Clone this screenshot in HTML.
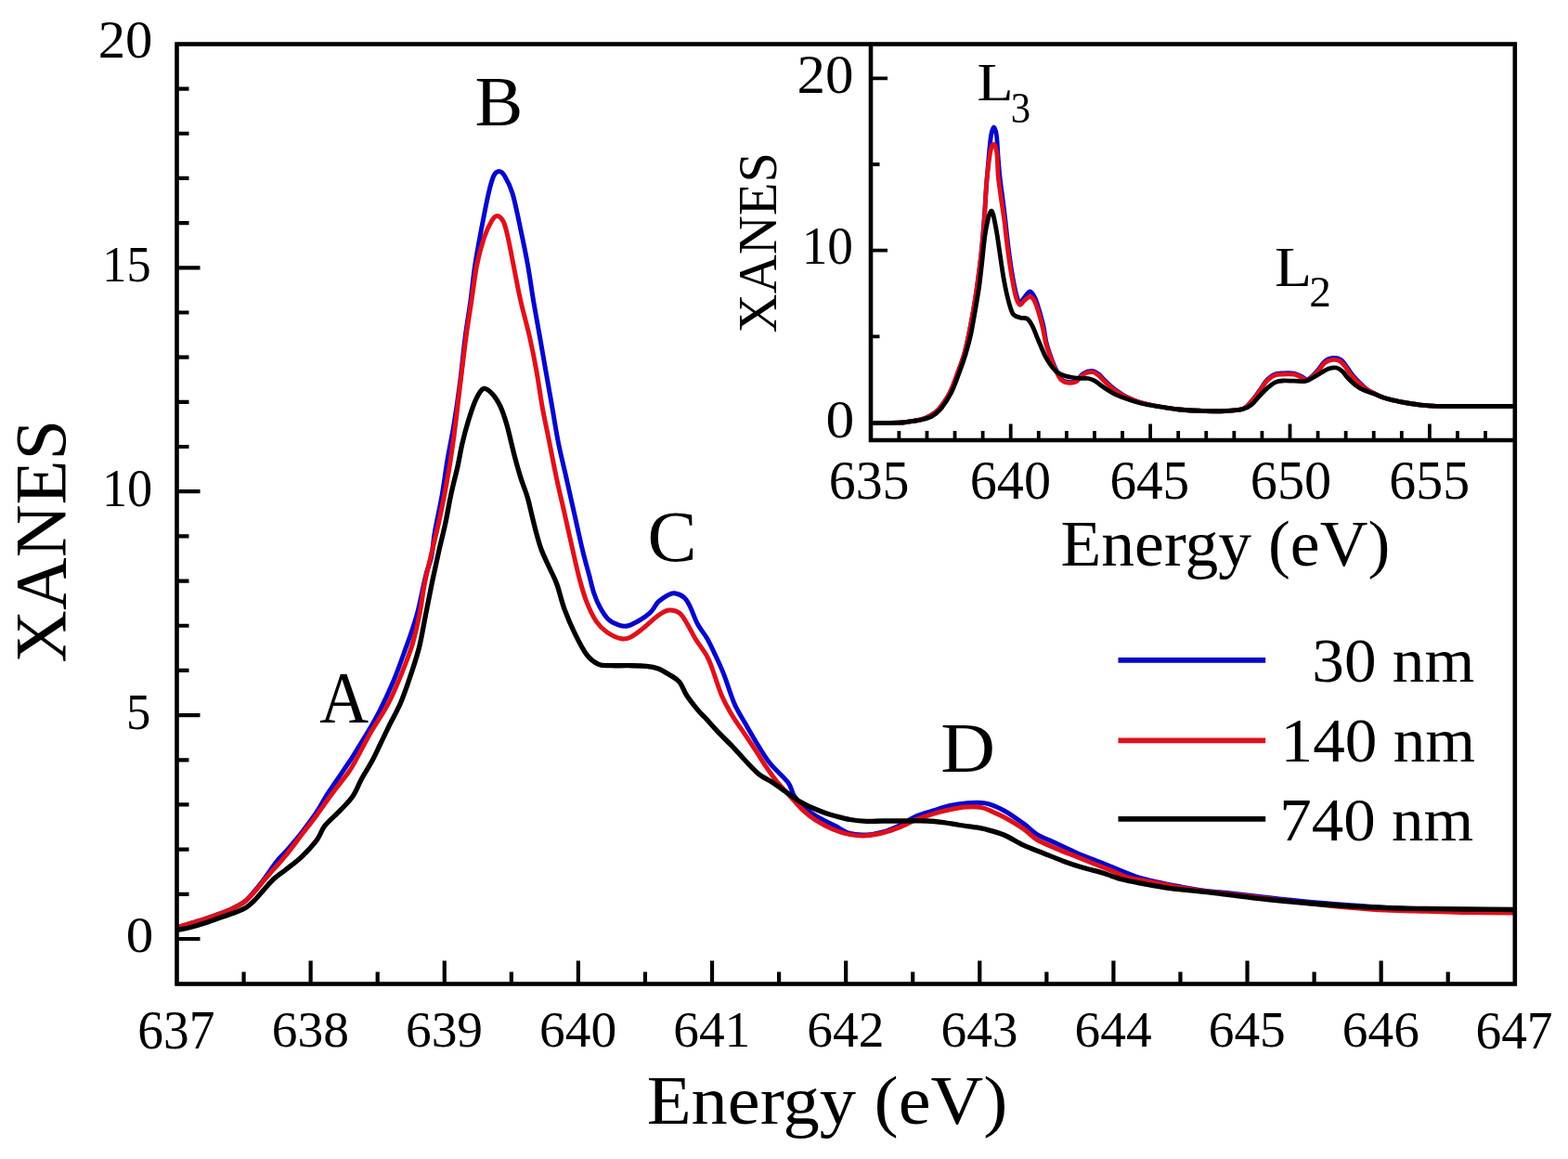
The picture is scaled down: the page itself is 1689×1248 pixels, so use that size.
<!DOCTYPE html>
<html><head><meta charset="utf-8"><title>XANES</title>
<style>html,body{margin:0;padding:0;background:#fff;overflow:hidden;}svg{display:block;}text{font-family:"Liberation Serif", "Times New Roman", serif;fill:#000;}</style>
</head><body>
<svg width="1689" height="1248" viewBox="0 0 1689 1248">
<rect x="0" y="0" width="1689" height="1248" fill="#fff"/>
<defs><clipPath id="mc"><rect x="190.5" y="47.5" width="1441.3" height="1012"/></clipPath><clipPath id="ic"><rect x="938" y="47.5" width="693.8" height="426.5"/></clipPath></defs>
<g clip-path="url(#mc)" fill="none" stroke-linejoin="round" stroke-linecap="round">
<path d="M190.5,998.6C193.13,997.83 201.3,995.48 206.3,994C211.3,992.52 215.77,991.25 220.5,989.7C225.23,988.15 229.95,986.48 234.7,984.7C239.45,982.92 244.25,981.28 249,979C253.75,976.72 259.07,974.17 263.2,971C267.33,967.83 270.25,964.08 273.8,960C277.35,955.92 280.52,951.83 284.5,946.5C288.48,941.17 293.82,932.92 297.7,928C301.58,923.08 303.32,922.17 307.8,917C312.28,911.83 319,904.17 324.6,897C330.2,889.83 336.83,880.83 341.4,874C345.97,867.17 348.63,861.33 352,856C355.37,850.67 357.75,847.67 361.6,842C365.45,836.33 371.72,827.08 375.1,822C378.48,816.92 376.92,819.67 381.9,811.5C386.88,803.33 398.1,785.82 405,773C411.9,760.18 417.85,747.4 423.3,734.6C428.75,721.8 434.18,705.82 437.7,696.2C441.22,686.58 442.32,683.32 444.4,676.9C446.48,670.48 447.8,667.32 450.2,657.7C452.6,648.08 456.4,628.82 458.8,619.2C461.2,609.58 462.98,607.87 464.6,600C466.22,592.13 466.6,583 468.5,572C470.4,561 473.75,546.83 476,534C478.25,521.17 479.83,507.83 482,495C484.17,482.17 486.75,470.83 489,457C491.25,443.17 493.47,427.78 495.5,412C497.53,396.22 499.3,377 501.2,362.3C503.1,347.6 505.15,336.62 506.9,323.8C508.65,310.98 509.77,298.22 511.7,285.4C513.63,272.58 516.08,259.72 518.5,246.9C520.92,234.08 523.97,218.12 526.2,208.5C528.43,198.88 529.98,193.22 531.9,189.2C533.82,185.18 535.77,184.4 537.7,184.4C539.63,184.4 541.1,185.18 543.5,189.2C545.9,193.22 549.22,198.88 552.1,208.5C554.98,218.12 558.07,234.08 560.8,246.9C563.53,259.72 566.2,272.58 568.5,285.4C570.8,298.22 572.45,310.98 574.6,323.8C576.75,336.62 579.17,349.6 581.4,362.3C583.63,375 585.77,387.3 588,400C590.23,412.7 592.55,425.68 594.8,438.5C597.05,451.32 598.93,464.08 601.5,476.9C604.07,489.72 607.32,502.58 610.2,515.4C613.08,528.22 615.92,540.98 618.8,553.8C621.68,566.62 624.87,581.4 627.5,592.3C630.13,603.2 632.57,611.5 634.6,619.2C636.63,626.9 637.77,632.73 639.7,638.5C641.63,644.27 643.63,649.1 646.2,653.8C648.77,658.5 651.68,663.48 655.1,666.7C658.52,669.92 663.07,671.93 666.7,673.1C670.33,674.27 673.07,674.63 676.9,673.7C680.73,672.77 685.92,669.72 689.7,667.5C693.48,665.28 697.13,662.57 699.6,660.4C702.07,658.23 702.9,656.58 704.5,654.5C706.1,652.42 706.82,650.12 709.2,647.9C711.58,645.68 715.92,642.72 718.8,641.2C721.68,639.68 723.43,638.4 726.5,638.8C729.57,639.2 734.35,641.1 737.2,643.6C740.05,646.1 741.25,649.1 743.6,653.8C745.95,658.5 748.32,666.23 751.3,671.8C754.28,677.37 758.52,682.07 761.5,687.2C764.48,692.33 766.2,696.2 769.2,702.6C772.2,709 775.82,716.33 779.5,725.6C783.18,734.87 787.2,748.92 791.3,758.2C795.4,767.48 799.83,773.82 804.1,781.3C808.37,788.78 812.63,796.27 816.9,803.1C821.17,809.93 824.35,815.68 829.7,822.3C835.05,828.92 844.72,837.03 849,842.8C853.28,848.57 852.2,852.2 855.4,856.9C858.6,861.6 863.93,867.15 868.2,871C872.47,874.85 875.87,877 881,880C886.13,883 893.25,886.08 899,889C904.75,891.92 909.78,895.83 915.5,897.5C921.22,899.17 927.38,899.25 933.3,899C939.22,898.75 945.08,897.67 951,896C956.92,894.33 962.87,891.82 968.8,889C974.73,886.18 980.68,881.73 986.6,879.1C992.52,876.47 998.38,875.08 1004.3,873.2C1010.22,871.32 1016.17,869.18 1022.1,867.8C1028.03,866.42 1033.38,865.38 1039.9,864.9C1046.42,864.42 1054.3,863.6 1061.2,864.9C1068.1,866.2 1074.4,869.03 1081.3,872.7C1088.2,876.37 1096.68,882.63 1102.6,886.9C1108.52,891.17 1110.88,894.75 1116.8,898.3C1122.72,901.85 1131,904.88 1138.1,908.2C1145.2,911.52 1152.3,915.12 1159.4,918.2C1166.5,921.28 1173.6,923.87 1180.7,926.7C1187.8,929.53 1194.88,932.35 1202,935.2C1209.12,938.05 1216.28,941.43 1223.4,943.8C1230.52,946.17 1236.42,947.52 1244.7,949.4C1252.98,951.28 1263.88,953.43 1273.1,955.1C1282.32,956.77 1291.75,958.33 1300,959.4C1308.25,960.47 1311.72,960.32 1322.6,961.5C1333.48,962.68 1351.08,964.92 1365.3,966.5C1379.52,968.08 1393.68,969.67 1407.9,971C1422.12,972.33 1436.38,973.42 1450.6,974.5C1464.82,975.58 1478.98,976.75 1493.2,977.5C1507.42,978.25 1521.43,978.58 1535.9,979C1550.37,979.42 1563.98,979.75 1580,980C1596.02,980.25 1623.33,980.42 1632,980.5" stroke="#0606cc" stroke-width="5.0"/>
<path d="M190.5,998.6C193.13,997.83 201.3,995.48 206.3,994C211.3,992.52 215.77,991.25 220.5,989.7C225.23,988.15 229.95,986.48 234.7,984.7C239.45,982.92 244.25,981.25 249,979C253.75,976.75 259.07,974.27 263.2,971.2C267.33,968.13 270.25,964.5 273.8,960.6C277.35,956.7 280.95,951.95 284.5,947.8C288.05,943.65 291.22,940.13 295.1,935.7C298.98,931.27 302.88,927.27 307.8,921.2C312.72,915.13 319,906.6 324.6,899.3C330.2,892 335.78,884.98 341.4,877.4C347.02,869.82 352.68,861.37 358.3,853.8C363.92,846.23 371.17,837.47 375.1,832C379.03,826.53 378.2,827.62 381.9,821C385.6,814.38 393.68,798.83 397.3,792.3C400.92,785.77 399.98,787.82 403.6,781.8C407.22,775.78 414.08,765.82 419,756.2C423.92,746.58 428.88,734.55 433.1,724.1C437.32,713.65 441.15,704.02 444.3,693.5C447.45,682.98 449.78,672.03 452,661C454.22,649.97 455.4,638.42 457.6,627.3C459.8,616.18 462.73,604.88 465.2,594.3C467.67,583.72 470.13,574.1 472.4,563.8C474.67,553.5 476.83,542.78 478.8,532.5C480.77,522.22 482.7,511.17 484.2,502.1C485.7,493.03 486.67,486.12 487.8,478.1C488.93,470.08 490,462.02 491,454C492,445.98 492.93,437.33 493.8,430C494.67,422.67 494.82,421.28 496.2,410C497.58,398.72 500.15,376.67 502.1,362.3C504.05,347.93 505.97,336.62 507.9,323.8C509.83,310.98 511.47,296.62 513.7,285.4C515.93,274.18 518.58,264.52 521.3,256.5C524.02,248.48 527.58,241.3 530,237.3C532.42,233.3 533.72,232.18 535.8,232.5C537.88,232.82 540.58,235.2 542.5,239.2C544.42,243.2 545.53,248.8 547.3,256.5C549.07,264.2 550.85,274.18 553.1,285.4C555.35,296.62 557.92,310.98 560.8,323.8C563.68,336.62 567.53,349.6 570.4,362.3C573.27,375 575.7,387.3 578,400C580.3,412.7 581.88,425.68 584.2,438.5C586.52,451.32 589.33,464.08 591.9,476.9C594.47,489.72 596.87,502.58 599.6,515.4C602.33,528.22 605.42,540.98 608.3,553.8C611.18,566.62 614.22,580.6 616.9,592.3C619.58,604 621.87,614.6 624.4,624C626.93,633.4 629.12,641.17 632.1,648.7C635.08,656.23 638.68,663.85 642.3,669.2C645.92,674.55 649.32,677.7 653.8,680.8C658.28,683.9 664.92,686.95 669.2,687.8C673.48,688.65 675.65,687.72 679.5,685.9C683.35,684.08 687.38,680.75 692.3,676.9C697.22,673.05 704.3,666.1 709,662.8C713.7,659.5 716.65,657.52 720.5,657.1C724.35,656.68 728.68,657.63 732.1,660.3C735.52,662.97 738.23,668.62 741,673.1C743.77,677.58 745.28,681.65 748.7,687.2C752.12,692.75 758.42,700.93 761.5,706.4C764.58,711.87 764.57,712.93 767.2,720C769.83,727.07 773.7,740.38 777.3,748.8C780.9,757.22 784.47,763.28 788.8,770.5C793.13,777.72 798.97,785.62 803.3,792.1C807.63,798.58 811.2,803.88 814.8,809.4C818.4,814.92 821.3,819.92 824.9,825.2C828.5,830.48 832.32,836.05 836.4,841.1C840.48,846.15 844.83,850.45 849.4,855.5C853.97,860.55 859,866.83 863.8,871.4C868.6,875.97 872.53,879.25 878.2,882.9C883.87,886.55 891.58,890.68 897.8,893.3C904.02,895.92 909.58,897.52 915.5,898.6C921.42,899.68 927.38,900.1 933.3,899.8C939.22,899.5 945.08,898.28 951,896.8C956.92,895.32 962.87,893.27 968.8,890.9C974.73,888.53 980.68,884.97 986.6,882.6C992.52,880.23 998.38,878.47 1004.3,876.7C1010.22,874.93 1016.17,873.28 1022.1,872C1028.03,870.72 1033.98,869.4 1039.9,869C1045.82,868.6 1052.67,868.72 1057.6,869.6C1062.53,870.48 1065.55,872.6 1069.5,874.3C1073.45,876 1075.78,876.75 1081.3,879.8C1086.82,882.85 1096.68,888.57 1102.6,892.6C1108.52,896.63 1110.88,900.45 1116.8,904C1122.72,907.55 1131,910.83 1138.1,913.9C1145.2,916.97 1152.3,919.55 1159.4,922.4C1166.5,925.25 1173.6,928.15 1180.7,931C1187.8,933.85 1196.07,937.13 1202,939.5C1207.93,941.87 1209.18,943.37 1216.3,945.2C1223.42,947.03 1235.25,948.7 1244.7,950.5C1254.15,952.3 1263.78,954.42 1273,956C1282.22,957.58 1291.73,958.92 1300,960C1308.27,961.08 1311.72,961.25 1322.6,962.5C1333.48,963.75 1351.08,965.83 1365.3,967.5C1379.52,969.17 1393.68,970.93 1407.9,972.5C1422.12,974.07 1436.38,975.63 1450.6,976.9C1464.82,978.17 1478.98,979.38 1493.2,980.1C1507.42,980.82 1521.43,980.8 1535.9,981.2C1550.37,981.6 1563.98,982.2 1580,982.5C1596.02,982.8 1623.33,982.92 1632,983" stroke="#e0101a" stroke-width="5.0"/>
<path d="M190.5,1001.6C193.13,1001.03 201.3,999.47 206.3,998.2C211.3,996.93 215.77,995.53 220.5,994C225.23,992.47 229.95,990.67 234.7,989C239.45,987.33 244.25,985.78 249,984C253.75,982.22 259.07,980.67 263.2,978.3C267.33,975.93 270.25,973.23 273.8,969.8C277.35,966.37 280.95,961.62 284.5,957.7C288.05,953.78 291.22,949.83 295.1,946.3C298.98,942.77 302.88,940.42 307.8,936.5C312.72,932.58 319,928.17 324.6,922.8C330.2,917.43 337.18,909.9 341.4,904.3C345.62,898.7 345.68,894.52 349.9,889.2C354.12,883.88 361.67,877.73 366.7,872.4C371.73,867.07 376.28,862.85 380.1,857.2C383.92,851.55 386.12,844.87 389.6,838.5C393.08,832.13 397.6,825.33 401,819C404.4,812.67 407,806.7 410,800.5C413,794.3 415.37,789.18 419,781.8C422.63,774.42 427.75,765.82 431.8,756.2C435.85,746.58 439.97,734.13 443.3,724.1C446.63,714.07 449.23,706.52 451.8,696C454.37,685.48 456.43,672.45 458.7,661C460.97,649.55 463.1,638.38 465.4,627.3C467.7,616.22 470.12,605.08 472.5,594.5C474.88,583.92 477.48,574.13 479.7,563.8C481.92,553.47 483.58,542.78 485.8,532.5C488.02,522.22 491,511.17 493,502.1C495,493.03 495.93,486.12 497.8,478.1C499.67,470.08 501.72,462.02 504.2,454C506.68,445.98 509.93,435.92 512.7,430C515.47,424.08 517.85,419.47 520.8,418.5C523.75,417.53 527.37,421 530.4,424.2C533.43,427.4 536.43,432.25 539,437.7C541.57,443.15 543.87,450.48 545.8,456.9C547.73,463.32 549,469.78 550.6,476.2C552.2,482.62 553.63,488.87 555.4,495.4C557.17,501.93 559.12,508.87 561.2,515.4C563.28,521.93 565.98,528.2 567.9,534.6C569.82,541 571.1,547.38 572.7,553.8C574.3,560.22 575.73,566.68 577.5,573.1C579.27,579.52 580.9,585.9 583.3,592.3C585.7,598.7 589.12,605.3 591.9,611.5C594.68,617.7 597.37,622.23 600,629.5C602.63,636.77 604.5,646.33 607.7,655.1C610.9,663.87 615.13,673.77 619.2,682.1C623.27,690.43 627.82,699.55 632.1,705.1C636.38,710.65 640.63,713.47 644.9,715.4C649.17,717.33 652.37,716.48 657.7,716.7C663.03,716.92 670.48,716.6 676.9,716.7C683.32,716.8 690.85,716.77 696.2,717.3C701.55,717.83 704.73,718.3 709,719.9C713.27,721.5 717.95,724.45 721.8,726.9C725.65,729.35 729.07,730.88 732.1,734.6C735.13,738.32 736.55,743.98 740,749.2C743.45,754.42 749.47,761.88 752.8,765.9C756.13,769.92 756.4,769.42 760,773.3C763.6,777.18 769.6,784.15 774.4,789.2C779.2,794.25 783.98,798.55 788.8,803.6C793.62,808.65 798.48,814.45 803.3,819.5C808.12,824.55 812.9,830.07 817.7,833.9C822.5,837.73 827.3,839.38 832.1,842.5C836.9,845.62 841.7,849.23 846.5,852.6C851.3,855.97 856.1,859.8 860.9,862.7C865.7,865.6 870.48,867.83 875.3,870C880.12,872.17 885.68,874.23 889.8,875.7C893.92,877.17 895.72,877.67 900,878.8C904.28,879.93 909.95,881.57 915.5,882.5C921.05,883.43 927.38,884.15 933.3,884.4C939.22,884.65 944.1,884.07 951,884C957.9,883.93 966.8,884 974.7,884C982.6,884 991.48,883.73 998.4,884C1005.32,884.27 1010.28,884.85 1016.2,885.6C1022.12,886.35 1027.98,887.62 1033.9,888.5C1039.82,889.38 1047.35,890.23 1051.7,890.9C1056.05,891.57 1055.07,891.15 1060,892.5C1064.93,893.85 1074.2,896.05 1081.3,899C1088.4,901.95 1095.5,906.92 1102.6,910.2C1109.7,913.48 1116.8,915.87 1123.9,918.7C1131,921.53 1138.1,924.6 1145.2,927.2C1152.3,929.8 1159.4,932.17 1166.5,934.3C1173.6,936.43 1180.7,937.88 1187.8,940C1194.9,942.12 1201.98,945.1 1209.1,947C1216.22,948.9 1222.2,949.85 1230.5,951.4C1238.8,952.95 1247.32,954.77 1258.9,956.3C1270.48,957.83 1289.38,959.42 1300,960.6C1310.62,961.78 1311.72,962.08 1322.6,963.4C1333.48,964.72 1351.08,966.98 1365.3,968.5C1379.52,970.02 1393.68,971.33 1407.9,972.5C1422.12,973.67 1436.38,974.67 1450.6,975.5C1464.82,976.33 1478.98,977 1493.2,977.5C1507.42,978 1521.68,978.25 1535.9,978.5C1550.12,978.75 1562.48,978.83 1578.5,979C1594.52,979.17 1623.08,979.42 1632,979.5" stroke="#000" stroke-width="5.3"/>
</g>
<path d="M190.5,1011h25M190.5,962.82h13M190.5,914.64h13M190.5,866.46h13M190.5,818.28h13M190.5,770.1h25M190.5,721.92h13M190.5,673.74h13M190.5,625.56h13M190.5,577.38h13M190.5,529.2h25M190.5,481.02h13M190.5,432.84h13M190.5,384.66h13M190.5,336.48h13M190.5,288.3h25M190.5,240.12h13M190.5,191.94h13M190.5,143.76h13M190.5,95.58h13M262.56,1059.5v-13M334.63,1059.5v-25M406.69,1059.5v-13M478.76,1059.5v-25M550.83,1059.5v-13M622.89,1059.5v-25M694.95,1059.5v-13M767.02,1059.5v-25M839.09,1059.5v-13M911.15,1059.5v-25M983.21,1059.5v-13M1055.28,1059.5v-25M1127.35,1059.5v-13M1199.41,1059.5v-25M1271.47,1059.5v-13M1343.54,1059.5v-25M1415.61,1059.5v-13M1487.67,1059.5v-25M1559.73,1059.5v-13" stroke="#000" stroke-width="4.2" fill="none"/>
<path d="M1204.5,710.8H1363.2" stroke="#0606cc" stroke-width="5.8"/>
<path d="M1204.5,797.4H1363.2" stroke="#e0101a" stroke-width="5.8"/>
<path d="M1204.5,881.8H1363.2" stroke="#000" stroke-width="5.8"/>
<rect x="938" y="47.5" width="693.8" height="426.5" fill="#fff"/>
<g clip-path="url(#ic)" fill="none" stroke-linejoin="round" stroke-linecap="round">
<path d="M938,455.6C943,455.53 961.33,455.43 968,455.2C974.67,454.97 973.92,454.8 978,454.2C982.08,453.6 988.5,452.7 992.5,451.6C996.5,450.5 998.8,449.53 1002,447.6C1005.2,445.67 1008.2,444.1 1011.7,440C1015.2,435.9 1019.72,429.33 1023,423C1026.28,416.67 1028.82,408.88 1031.4,402C1033.98,395.12 1036.4,389.03 1038.5,381.7C1040.6,374.37 1042.33,365.95 1044,358C1045.67,350.05 1047.08,342.33 1048.5,334C1049.92,325.67 1051.1,318.03 1052.5,308C1053.9,297.97 1055.58,286.47 1056.9,273.8C1058.22,261.13 1059.47,244.3 1060.4,232C1061.33,219.7 1061.73,210.33 1062.5,200C1063.27,189.67 1064.17,179 1065,170C1065.83,161 1066.58,151.5 1067.5,146C1068.42,140.5 1069.5,137 1070.5,137C1071.5,137 1072.72,140.5 1073.5,146C1074.28,151.5 1074.58,162.33 1075.2,170C1075.82,177.67 1076.3,183.97 1077.2,192C1078.1,200.03 1079.67,210.87 1080.6,218.2C1081.53,225.53 1082.13,230.2 1082.8,236C1083.47,241.8 1083.85,246.5 1084.6,253C1085.35,259.5 1086.28,267.62 1087.3,275C1088.32,282.38 1089.42,290.13 1090.7,297.3C1091.98,304.47 1093.68,313.22 1095,318C1096.32,322.78 1097.25,325.58 1098.6,326C1099.95,326.42 1101.28,322.5 1103.1,320.5C1104.92,318.5 1107.52,313.92 1109.5,314C1111.48,314.08 1113.33,317.58 1115,321C1116.67,324.42 1118,329.42 1119.5,334.5C1121,339.58 1122.75,345.83 1124,351.5C1125.25,357.17 1125.83,363.5 1127,368.5C1128.17,373.5 1129.37,376.83 1131,381.5C1132.63,386.17 1134.77,392.03 1136.8,396.5C1138.83,400.97 1140.75,405.8 1143.2,408.3C1145.65,410.8 1148.73,411.25 1151.5,411.5C1154.27,411.75 1157.32,411.3 1159.8,409.8C1162.28,408.3 1163.65,404.22 1166.4,402.5C1169.15,400.78 1173.53,399.5 1176.3,399.5C1179.07,399.5 1180.88,401 1183,402.5C1185.12,404 1186.58,406.17 1189,408.5C1191.42,410.83 1194.73,414.15 1197.5,416.5C1200.27,418.85 1202.92,420.77 1205.6,422.6C1208.28,424.43 1209.9,425.73 1213.6,427.5C1217.3,429.27 1221.73,431.45 1227.8,433.2C1233.87,434.95 1242.88,436.7 1250,438C1257.12,439.3 1262.35,440.23 1270.5,441C1278.65,441.77 1290.65,442.35 1298.9,442.6C1307.15,442.85 1313.33,442.88 1320,442.5C1326.67,442.12 1334.18,442.13 1338.9,440.3C1343.62,438.47 1345.35,434.75 1348.3,431.5C1351.25,428.25 1353.83,424.55 1356.6,420.8C1359.37,417.05 1362.13,411.97 1364.9,409C1367.67,406.03 1370.43,404.2 1373.2,403C1375.97,401.8 1378.05,401.97 1381.5,401.8C1384.95,401.63 1390.45,401.38 1393.9,402C1397.35,402.62 1399.72,404.42 1402.2,405.5C1404.68,406.58 1406.03,409.5 1408.8,408.5C1411.57,407.5 1415.75,402.75 1418.8,399.5C1421.85,396.25 1424.23,391.33 1427.1,389C1429.97,386.67 1433.1,385.75 1436,385.5C1438.9,385.25 1442,385.83 1444.5,387.5C1447,389.17 1448.92,392.75 1451,395.5C1453.08,398.25 1454.67,401.17 1457,404C1459.33,406.83 1462.38,409.92 1465,412.5C1467.62,415.08 1470.2,417.67 1472.7,419.5C1475.2,421.33 1477.03,422.05 1480,423.5C1482.97,424.95 1485.58,426.63 1490.5,428.2C1495.42,429.77 1503.18,431.63 1509.5,432.9C1515.82,434.17 1522.08,435.07 1528.4,435.8C1534.72,436.53 1537.92,437.02 1547.4,437.3C1556.88,437.58 1571.2,437.47 1585.3,437.5C1599.4,437.53 1624.22,437.5 1632,437.5" stroke="#0606cc" stroke-width="4.8"/>
<path d="M938,455.6C943,455.53 961.33,455.43 968,455.2C974.67,454.97 973.92,454.8 978,454.2C982.08,453.6 988.5,452.7 992.5,451.6C996.5,450.5 998.8,449.53 1002,447.6C1005.2,445.67 1008.2,444.1 1011.7,440C1015.2,435.9 1019.72,429.33 1023,423C1026.28,416.67 1028.82,408.88 1031.4,402C1033.98,395.12 1036.4,389.03 1038.5,381.7C1040.6,374.37 1042.33,365.95 1044,358C1045.67,350.05 1047.08,342.33 1048.5,334C1049.92,325.67 1051.1,318.03 1052.5,308C1053.9,297.97 1055.58,285.83 1056.9,273.8C1058.22,261.77 1059.67,245.07 1060.4,235.8C1061.13,226.53 1060.85,225.55 1061.3,218.2C1061.75,210.85 1062.28,200.23 1063.1,191.7C1063.92,183.17 1065.38,172.53 1066.2,167C1067.02,161.47 1067.33,160.42 1068,158.5C1068.67,156.58 1069.47,155.5 1070.2,155.5C1070.93,155.5 1071.77,156.58 1072.4,158.5C1073.03,160.42 1073.5,161.47 1074,167C1074.5,172.53 1074.57,183.17 1075.4,191.7C1076.23,200.23 1077.97,210.85 1079,218.2C1080.03,225.55 1080.85,230.1 1081.6,235.8C1082.35,241.5 1082.72,245.88 1083.5,252.4C1084.28,258.92 1085.27,267.42 1086.3,274.9C1087.33,282.38 1088.38,289.83 1089.7,297.3C1091.02,304.77 1092.72,314.53 1094.2,319.7C1095.68,324.87 1097.12,327.58 1098.6,328.3C1100.08,329.02 1101.32,325.47 1103.1,324C1104.88,322.53 1107.43,319.5 1109.3,319.5C1111.17,319.5 1112.72,321.17 1114.3,324C1115.88,326.83 1117.3,331.6 1118.8,336.5C1120.3,341.4 1122,347.82 1123.3,353.4C1124.6,358.98 1125.37,365.17 1126.6,370C1127.83,374.83 1129.05,377.83 1130.7,382.4C1132.35,386.97 1134.42,392.97 1136.5,397.4C1138.58,401.83 1140.7,406.52 1143.2,409C1145.7,411.48 1148.73,412.03 1151.5,412.3C1154.27,412.57 1157.32,412.07 1159.8,410.6C1162.28,409.13 1163.65,405.15 1166.4,403.5C1169.15,401.85 1173.53,400.62 1176.3,400.7C1179.07,400.78 1180.92,402.48 1183,404C1185.08,405.52 1186.45,407.58 1188.8,409.8C1191.15,412.02 1194.33,415.08 1197.1,417.3C1199.87,419.52 1202.65,421.35 1205.4,423.1C1208.15,424.85 1209.87,426.12 1213.6,427.8C1217.33,429.48 1221.73,431.5 1227.8,433.2C1233.87,434.9 1242.88,436.7 1250,438C1257.12,439.3 1262.35,440.23 1270.5,441C1278.65,441.77 1290.65,442.35 1298.9,442.6C1307.15,442.85 1313.33,442.88 1320,442.5C1326.67,442.12 1334.18,442.05 1338.9,440.3C1343.62,438.55 1345.35,435.15 1348.3,432C1351.25,428.85 1353.83,425.1 1356.6,421.4C1359.37,417.7 1362.13,412.7 1364.9,409.8C1367.67,406.9 1370.43,405.13 1373.2,404C1375.97,402.87 1378.05,403.13 1381.5,403C1384.95,402.87 1390.45,402.62 1393.9,403.2C1397.35,403.78 1399.72,405.53 1402.2,406.5C1404.68,407.47 1406.03,409.97 1408.8,409C1411.57,408.03 1415.75,403.75 1418.8,400.7C1421.85,397.65 1424.33,392.92 1427.1,390.7C1429.87,388.48 1432.63,387.67 1435.4,387.4C1438.17,387.13 1441.22,387.58 1443.7,389.1C1446.18,390.62 1448.23,393.88 1450.3,396.5C1452.37,399.12 1453.75,402.03 1456.1,404.8C1458.45,407.57 1461.63,410.6 1464.4,413.1C1467.17,415.6 1470.1,418.07 1472.7,419.8C1475.3,421.53 1477.03,422.1 1480,423.5C1482.97,424.9 1485.58,426.63 1490.5,428.2C1495.42,429.77 1503.18,431.63 1509.5,432.9C1515.82,434.17 1522.08,435.07 1528.4,435.8C1534.72,436.53 1537.92,437.02 1547.4,437.3C1556.88,437.58 1571.2,437.47 1585.3,437.5C1599.4,437.53 1624.22,437.5 1632,437.5" stroke="#e0101a" stroke-width="4.8"/>
<path d="M938,455.6C943,455.53 961.33,455.43 968,455.2C974.67,454.97 973.92,454.73 978,454.2C982.08,453.67 988.23,452.98 992.5,452C996.77,451.02 1000.15,450.22 1003.6,448.3C1007.05,446.38 1009.7,444.72 1013.2,440.5C1016.7,436.28 1021.3,429.42 1024.6,423C1027.9,416.58 1030.43,408.88 1033,402C1035.57,395.12 1037.92,388.48 1040,381.7C1042.08,374.92 1043.75,369.25 1045.5,361.3C1047.25,353.35 1049,342.55 1050.5,334C1052,325.45 1053.33,318.17 1054.5,310C1055.67,301.83 1056.45,294.23 1057.5,285C1058.55,275.77 1059.67,262.77 1060.8,254.6C1061.93,246.43 1063.22,240.52 1064.3,236C1065.38,231.48 1066.38,228.33 1067.3,227.5C1068.22,226.67 1068.68,226.85 1069.8,231C1070.92,235.15 1072.75,245.08 1074,252.4C1075.25,259.72 1076.18,267.42 1077.3,274.9C1078.42,282.38 1079.38,289.83 1080.7,297.3C1082.02,304.77 1083.52,313 1085.2,319.7C1086.88,326.4 1088.57,333.78 1090.8,337.5C1093.03,341.22 1095.98,341.03 1098.6,342C1101.22,342.97 1104.25,341.78 1106.5,343.3C1108.75,344.82 1110.23,347.55 1112.1,351.1C1113.97,354.65 1116.38,361.45 1117.7,364.6C1119.02,367.75 1118.52,366.62 1120,370C1121.48,373.38 1124.4,380.75 1126.6,384.9C1128.8,389.05 1130.98,392.13 1133.2,394.9C1135.42,397.67 1137.55,399.85 1139.9,401.5C1142.25,403.15 1144.68,403.97 1147.3,404.8C1149.92,405.63 1152.83,406.08 1155.6,406.5C1158.37,406.92 1161.13,407.13 1163.9,407.3C1166.67,407.47 1169.72,407.08 1172.2,407.5C1174.68,407.92 1176.73,408.72 1178.8,409.8C1180.87,410.88 1182.25,412.33 1184.6,414C1186.95,415.67 1190.13,418.02 1192.9,419.8C1195.67,421.58 1198.43,423.33 1201.2,424.7C1203.97,426.07 1206.05,426.75 1209.5,428C1212.95,429.25 1217.75,430.95 1221.9,432.2C1226.05,433.45 1229.72,434.53 1234.4,435.5C1239.08,436.47 1243.98,437.08 1250,438C1256.02,438.92 1262.35,440.23 1270.5,441C1278.65,441.77 1290.65,442.35 1298.9,442.6C1307.15,442.85 1313.33,442.85 1320,442.5C1326.67,442.15 1334.18,441.67 1338.9,440.5C1343.62,439.33 1345.35,437.85 1348.3,435.5C1351.25,433.15 1353.83,429.3 1356.6,426.4C1359.37,423.5 1362.13,420.53 1364.9,418.1C1367.67,415.67 1370.43,413.15 1373.2,411.8C1375.97,410.45 1378.05,410.27 1381.5,410C1384.95,409.73 1389.77,410.13 1393.9,410.2C1398.03,410.27 1402.85,411.02 1406.3,410.4C1409.75,409.78 1411.83,407.98 1414.6,406.5C1417.37,405.02 1420.13,403.08 1422.9,401.5C1425.67,399.92 1428.43,397.92 1431.2,397C1433.97,396.08 1437.02,395.52 1439.5,396C1441.98,396.48 1444.03,398.07 1446.1,399.9C1448.17,401.73 1449.55,404.52 1451.9,407C1454.25,409.48 1457.43,412.67 1460.2,414.8C1462.97,416.93 1465.2,418.27 1468.5,419.8C1471.8,421.33 1476.33,422.6 1480,424C1483.67,425.4 1485.58,426.72 1490.5,428.2C1495.42,429.68 1503.18,431.63 1509.5,432.9C1515.82,434.17 1522.08,435.07 1528.4,435.8C1534.72,436.53 1537.92,437.02 1547.4,437.3C1556.88,437.58 1571.2,437.47 1585.3,437.5C1599.4,437.53 1624.22,437.5 1632,437.5" stroke="#000" stroke-width="4.8"/>
</g>
<path d="M938,455.1h18M938,362.4h9.5M938,269.7h18M938,177h9.5M938,84.3h18M968.38,474v-10M998.46,474v-10M1028.54,474v-10M1058.62,474v-10M1088.7,474v-17.5M1118.78,474v-10M1148.86,474v-10M1178.94,474v-10M1209.02,474v-10M1239.1,474v-17.5M1269.18,474v-10M1299.26,474v-10M1329.34,474v-10M1359.42,474v-10M1389.5,474v-17.5M1419.58,474v-10M1449.66,474v-10M1479.74,474v-10M1509.82,474v-10M1539.9,474v-17.5M1569.98,474v-10M1600.06,474v-10" stroke="#000" stroke-width="3.8" fill="none"/>
<path d="M938,47.5V474H1631.8" stroke="#000" stroke-width="4.6" fill="none"/>
<rect x="190.5" y="47.5" width="1441.3" height="1012" fill="none" stroke="#000" stroke-width="4.6"/>
<text transform="translate(135,62) scale(1.0421,1)" font-size="56.3" text-anchor="middle">20</text>
<text transform="translate(136.4,303.1) scale(0.9377,1)" font-size="55.7" text-anchor="middle">15</text>
<text transform="translate(137.05,545.2) scale(0.9542,1)" font-size="56.88" text-anchor="middle">10</text>
<text transform="translate(149.1,784.5) scale(0.9425,1)" font-size="55.7" text-anchor="middle">5</text>
<text transform="translate(150.45,1025.3) scale(1.0625,1)" font-size="55.49" text-anchor="middle">0</text>
<text transform="translate(189.9,1129.3) scale(0.9503,1)" font-size="58.29" text-anchor="middle">637</text>
<text transform="translate(622.6,1127.4) scale(0.9973,1)" font-size="55.56" text-anchor="middle">640</text>
<text transform="translate(1631,1129.2) scale(0.9866,1)" font-size="56.22" text-anchor="middle">647</text>
<text transform="translate(69.5,582.8) rotate(-90) scale(1.0008,1)" font-size="78.48" text-anchor="middle">XANES</text>
<text transform="translate(891.05,1209.8) scale(1.0569,1)" font-size="74.31" text-anchor="middle">Energy (eV)</text>
<text transform="translate(537.5,134.6) scale(1.0111,1)" font-size="76.84" text-anchor="middle">B</text>
<text transform="translate(370.7,777.3) scale(0.9263,1)" font-size="79.07" text-anchor="middle">A</text>
<text transform="translate(724.1,603.6) scale(1.0178,1)" font-size="78.22" text-anchor="middle">C</text>
<text transform="translate(1042.65,830.6) scale(1.0574,1)" font-size="76.95" text-anchor="middle">D</text>
<text transform="translate(1500.8,734.1) scale(1.0254,1)" font-size="67.51" text-anchor="middle">30 nm</text>
<text transform="translate(1484.35,820.2) scale(1.0251,1)" font-size="67.51" text-anchor="middle">140 nm</text>
<text transform="translate(1482.6,905) scale(1.0446,1)" font-size="66.08" text-anchor="middle">740 nm</text>
<text transform="translate(904.75,471.4) scale(1.0812,1)" font-size="56.8" text-anchor="middle">0</text>
<text transform="translate(889.05,100.1) scale(1.0456,1)" font-size="58.29" text-anchor="middle">20</text>
<text transform="translate(891.3,284.2) scale(0.9660,1)" font-size="57.21" text-anchor="middle">10</text>
<text transform="translate(936.15,537.3) scale(0.9804,1)" font-size="59.02" text-anchor="middle">635</text>
<text transform="translate(1088.4,536.5) scale(0.9722,1)" font-size="59.9" text-anchor="middle">640</text>
<text transform="translate(1238.25,536.9) scale(0.9545,1)" font-size="59.9" text-anchor="middle">645</text>
<text transform="translate(1390.5,536.9) scale(0.9724,1)" font-size="59.9" text-anchor="middle">650</text>
<text transform="translate(1539.75,536.9) scale(0.9663,1)" font-size="59.9" text-anchor="middle">655</text>
<text transform="translate(836.2,261.3) rotate(-90) scale(0.9917,1)" font-size="58.8" text-anchor="middle">XANES</text>
<text transform="translate(1319.9,608.7) scale(1.0145,1)" font-size="70.62" text-anchor="middle">Energy (eV)</text>
<text transform="translate(1072.1,107.9) scale(1.1015,1)" font-size="58.03" text-anchor="middle">L</text>
<text transform="translate(1099.4,132) scale(0.9101,1)" font-size="46.99" text-anchor="middle">3</text>
<text transform="translate(1393.1,307.6) scale(1.0744,1)" font-size="61.05" text-anchor="middle">L</text>
<text transform="translate(1422.15,330.3) scale(1.0051,1)" font-size="46.99" text-anchor="middle">2</text>
<text transform="translate(334.34,1127.4) scale(0.9973,1)" font-size="55.56" text-anchor="middle">638</text>
<text transform="translate(478.47,1127.4) scale(0.9973,1)" font-size="55.56" text-anchor="middle">639</text>
<text transform="translate(766.73,1127.4) scale(0.9973,1)" font-size="55.56" text-anchor="middle">641</text>
<text transform="translate(910.86,1127.4) scale(0.9973,1)" font-size="55.56" text-anchor="middle">642</text>
<text transform="translate(1054.99,1127.4) scale(0.9973,1)" font-size="55.56" text-anchor="middle">643</text>
<text transform="translate(1199.12,1127.4) scale(0.9973,1)" font-size="55.56" text-anchor="middle">644</text>
<text transform="translate(1343.25,1127.4) scale(0.9973,1)" font-size="55.56" text-anchor="middle">645</text>
<text transform="translate(1487.38,1127.4) scale(0.9973,1)" font-size="55.56" text-anchor="middle">646</text>
</svg></body></html>
